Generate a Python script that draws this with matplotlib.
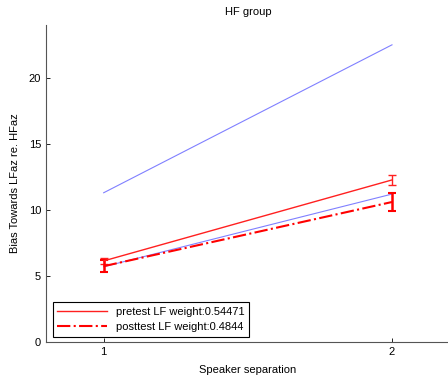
import numpy as np
import matplotlib
matplotlib.use("Agg")
import matplotlib.pyplot as plt
from matplotlib.lines import Line2D

# speaker separation
sep = [1, 2]

# blue reference lines
blue_hi = [11.3, 22.5]
blue_lo = [5.7, 11.2]

# pretest / posttest means and errors
pre = [6.14, 12.27]
pre_err = [0.25, 0.4]
post = [5.74, 10.6]
post_err = [0.47, 0.65]

labels = ["pretest LF weight:0.54471", "posttest LF weight:0.4844"]

plt.rcParams['font.family'] = ['Liberation Sans', 'DejaVu Sans']
plt.rcParams['font.size'] = 8

fig = plt.figure(figsize=(4.48, 3.79), dpi=100)
ax = fig.add_axes([0.1027, 0.0976, 0.901, 0.8364])

ax.plot(sep, blue_hi, color='#8080ff', lw=0.8)
ax.plot(sep, blue_lo, color='#8080ff', lw=0.8)

ax.errorbar(sep, pre, yerr=pre_err, color='#ff2020', lw=1.0, capsize=3,
            elinewidth=1.0)
ax.errorbar(sep, post, yerr=post_err, color='red', lw=1.5, ls='-.',
            capsize=3, elinewidth=1.8, capthick=1.5)

ax.set_xlim(0.8, 2.2)
ax.set_ylim(0, 24)
ax.set_xticks([1, 2])
ax.set_yticks([0, 5, 10, 15, 20])
ax.tick_params(direction='in', length=3, colors='black', width=0.6)
for s in ['top', 'right']:
    ax.spines[s].set_visible(False)
for s in ['left', 'bottom']:
    ax.spines[s].set_color('#555555')
    ax.spines[s].set_linewidth(0.8)

ax.set_title("HF group", fontsize=8, pad=7)
ax.set_xlabel("Speaker separation", labelpad=6)
ax.set_ylabel("Bias Towards LFaz re. HFaz", labelpad=6)

handles = [Line2D([], [], color='#ff2020', lw=1.0),
           Line2D([], [], color='red', lw=1.5, ls='-.')]
leg = ax.legend(handles, labels, loc='lower left',
                bbox_to_anchor=(0.0166, 0.0167),
                borderaxespad=0, fancybox=False, framealpha=1,
                handlelength=4.5, fontsize=8)
leg.get_frame().set_edgecolor('black')
leg.get_frame().set_linewidth(0.8)

fig.savefig("out.png", dpi=100)
